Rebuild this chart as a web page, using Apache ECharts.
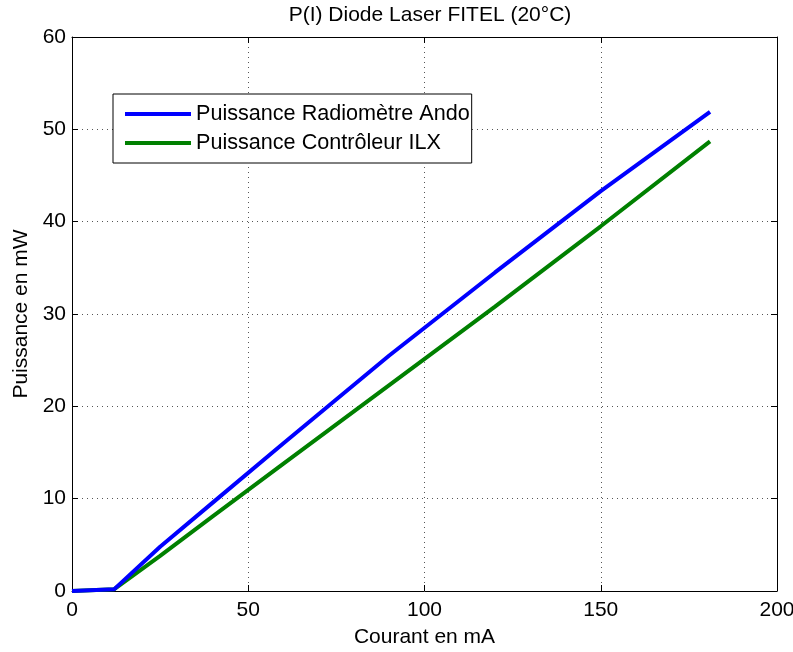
<!DOCTYPE html>
<html><head><meta charset="utf-8">
<script src="https://cdn.jsdelivr.net/npm/echarts@6/dist/echarts.min.js"></script>
<style>html,body{margin:0;padding:0;background:#fff}#c{width:793px;height:652px}</style>
</head><body><div id="c"></div>
<script>
const courant = [0, 12, 25, 40, 60, 90, 120, 150, 181];
const radiometreAndo = [0, 0.2, 4.8, 9.6, 16.0, 25.5, 34.5, 43.3, 51.9];
const controleurILX = [0, 0.2, 3.8, 8.1, 13.8, 22.3, 30.8, 39.5, 48.7];
const xTicks = [0, 50, 100, 150, 200];
const yTicks = [0, 10, 20, 30, 40, 50, 60];
const seriesNames = ['Puissance Radiomètre Ando', 'Puissance Contrôleur ILX'];

const font = 'Liberation Sans, Arial, sans-serif';
const fs = 21;
const chart = echarts.init(document.getElementById('c'));
const pair = (xs, ys) => xs.map((x, i) => [x, ys[i]]);
const axisCommon = {
  axisLine: {show: true, onZero: false, lineStyle: {color: '#000', width: 1}},
  axisTick: {show: true, inside: true, length: 6, lineStyle: {color: '#000'}},
  splitLine: {show: false}
};
const gridLine = {show: true, lineStyle: {color: '#555', type: [1, 4], width: 1}};
chart.setOption({
  animation: false,
  title: {text: 'P(I) Diode Laser FITEL (20°C)', left: 425, top: 0, textAlign: 'center',
    textStyle: {fontFamily: font, fontSize: fs, fontWeight: 'normal', color: '#000'}},
  grid: {left: 72, top: 37, width: 705, height: 554, show: false, containLabel: false, outerBoundsMode: 'none'},
  legend: {
    left: 113, top: 94, orient: 'vertical',
    data: seriesNames,
    backgroundColor: '#fff', borderColor: '#000', borderWidth: 1,
    padding: [9, 2, 9, 12], itemGap: 7, itemWidth: 66, itemHeight: 4,
    icon: 'rect',
    textStyle: {fontFamily: font, fontSize: 21.6, color: '#000'}
  },
  xAxis: [
    Object.assign({type: 'value', min: 0, max: 200, interval: 50, position: 'bottom',
      name: 'Courant en mA', nameLocation: 'middle', nameGap: 36,
      nameTextStyle: {fontFamily: font, fontSize: fs, color: '#000'},
      axisLabel: {fontFamily: font, fontSize: fs, color: '#000', margin: 9,
        formatter: v => xTicks.includes(v) ? String(v) : ''}}, axisCommon,
      {splitLine: gridLine}),
    Object.assign({type: 'value', min: 0, max: 200, interval: 50, position: 'top',
      axisLabel: {show: false}}, axisCommon)
  ],
  yAxis: [
    Object.assign({type: 'value', min: 0, max: 60, interval: 10, position: 'left',
      name: 'Puissance en mW', nameLocation: 'middle', nameGap: 40,
      nameTextStyle: {fontFamily: font, fontSize: fs, color: '#000'},
      axisLabel: {fontFamily: font, fontSize: fs, color: '#000', margin: 6,
        formatter: v => yTicks.includes(v) ? String(v) : ''}}, axisCommon,
      {splitLine: gridLine}),
    Object.assign({type: 'value', min: 0, max: 60, interval: 10, position: 'right',
      axisLabel: {show: false}}, axisCommon)
  ],
  series: [
    {name: seriesNames[0], type: 'line', data: pair(courant, radiometreAndo), showSymbol: false,
      symbol: 'none', lineStyle: {color: '#0000ff', width: 4}, itemStyle: {color: '#0000ff'}, z: 3},
    {name: seriesNames[1], type: 'line', data: pair(courant, controleurILX), showSymbol: false,
      symbol: 'none', lineStyle: {color: '#008000', width: 4}, itemStyle: {color: '#008000'}, z: 2}
  ]
});
</script></body></html>
